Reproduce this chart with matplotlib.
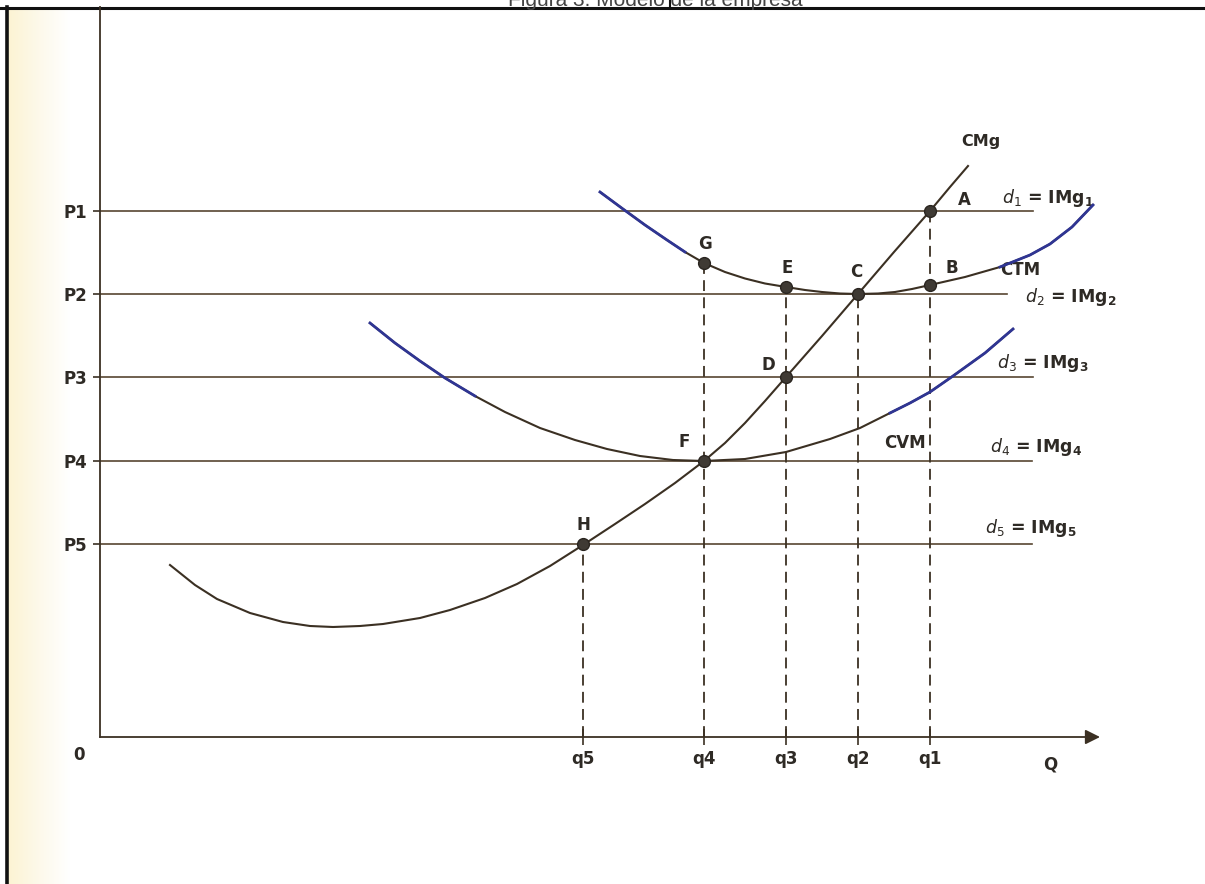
import numpy as np
import matplotlib
matplotlib.use("Agg")
import matplotlib.pyplot as plt
from matplotlib.colors import LinearSegmentedColormap

plt.rcParams['font.family'] = ['DejaVu Sans']
plt.rcParams['mathtext.fontset'] = 'dejavusans'

# price levels (horizontal demand lines) and where each line stops
price_labels = ['P1', 'P2', 'P3', 'P4', 'P5']
price_levels = [5.26, 4.43, 3.60, 2.76, 1.93]
price_line_end = [9.33, 9.07, 9.33, 9.32, 9.32]
demand_idx = ['1', '2', '3', '4', '5']

# quantities and the height where each dashed guide starts
qty_labels = ['q5', 'q4', 'q3', 'q2', 'q1']
qty_levels = [4.83, 6.04, 6.86, 7.58, 8.30]
drop_top = [1.93, 4.74, 4.50, 4.43, 5.26]

# marginal cost (CMg)
cmg_q = [0.70, 0.95, 1.17, 1.50, 1.83, 2.10, 2.33, 2.60, 2.83, 3.20, 3.50, 3.85, 4.17,
         4.50, 4.83, 5.15, 5.45, 5.75, 6.04, 6.25, 6.45, 6.65, 6.86, 7.22, 7.58, 7.94,
         8.30, 8.50, 8.68]
cmg_p = [1.72, 1.52, 1.38, 1.24, 1.15, 1.11, 1.10, 1.11, 1.13, 1.19, 1.27, 1.39, 1.53,
         1.71, 1.92, 2.13, 2.33, 2.54, 2.76, 2.94, 3.14, 3.36, 3.60, 4.01, 4.43, 4.85,
         5.26, 5.50, 5.71]

# average variable cost (CVM)
cvm_q = [2.70, 2.95, 3.20, 3.45, 3.75, 4.05, 4.40, 4.75, 5.07, 5.40, 5.73, 6.04, 6.45,
         6.86, 7.30, 7.60, 7.90, 8.10, 8.30, 8.53, 8.85, 9.13]
cvm_p = [4.14, 3.94, 3.76, 3.59, 3.41, 3.25, 3.09, 2.97, 2.88, 2.81, 2.77, 2.76, 2.78,
         2.85, 2.98, 3.09, 3.24, 3.34, 3.45, 3.61, 3.84, 4.08]

# average total cost (CTM)
ctm_q = [5.00, 5.23, 5.45, 5.67, 5.85, 6.04, 6.25, 6.45, 6.65, 6.86, 7.05, 7.22, 7.40,
         7.58, 7.78, 7.95, 8.12, 8.30, 8.65, 9.00, 9.30, 9.50, 9.72, 9.93]
ctm_p = [5.45, 5.28, 5.12, 4.97, 4.85, 4.74, 4.65, 4.585, 4.535, 4.50, 4.47, 4.45, 4.435,
         4.43, 4.435, 4.45, 4.48, 4.52, 4.60, 4.70, 4.82, 4.93, 5.10, 5.32]

# labelled points
point_names = ['A', 'B', 'C', 'D', 'E', 'F', 'G', 'H']
point_q = [8.30, 8.30, 7.58, 6.86, 6.86, 6.04, 6.04, 4.83]
point_p = [5.26, 4.52, 4.43, 3.60, 4.50, 2.76, 4.74, 1.93]
point_offsets = [(25, 8), (16, 12), (-1, 16), (-13, 9), (1, 14), (-14, 14), (1, 14), (0, 14)]

W, H = 1205, 884
X0, Y0 = 100, 737   # pixel position of the origin
UNIT = 100.0

ink = '#3b3023'
hline = '#574631'
blue = '#2f3593'
txt = '#2e2a25'

fig = plt.figure(figsize=(W / 100, H / 100), dpi=100)
fig.patch.set_facecolor('white')

# background: scan tint, frame and clipped heading
bg = fig.add_axes([0, 0, 1, 1], zorder=0)
bg.set_xlim(0, W)
bg.set_ylim(H, 0)
bg.axis('off')
tint = LinearSegmentedColormap.from_list('tint', ['#fcf3d2', '#fdf9ea', '#ffffff'])
bg.imshow(np.linspace(0, 1, 200).reshape(1, -1), extent=[7, 70, H, 7], cmap=tint,
          aspect='auto', interpolation='bilinear')
bg.plot([0, W], [7.5, 7.5], color='#111111', lw=2.2)
bg.plot([7, 7], [7, H], color='#111111', lw=2.6)
bg.plot([670, 670], [0, 7], color='#111111', lw=1.5)
bg.text(655, 0, 'Figura 3. Modelo de la empresa', ha='center', va='center',
        fontsize=15, color='#444444', family='Liberation Sans')

ax = fig.add_axes([X0 / W, (H - Y0) / H, (W - X0) / W, (Y0 - 7) / H], zorder=1)
ax.patch.set_alpha(0)
ax.set_xlim(0, (W - X0) / UNIT)
ax.set_ylim(0, (Y0 - 7) / UNIT)

for s in ['top', 'right', 'bottom']:
    ax.spines[s].set_visible(False)
ax.spines['left'].set_color(ink)
ax.spines['left'].set_linewidth(1.3)

# x axis with arrow
ax.annotate('', xy=(10.0, 0), xytext=(0, 0), annotation_clip=False,
            arrowprops=dict(arrowstyle='-|>', mutation_scale=22, lw=1.3, color=ink,
                            shrinkA=0, shrinkB=0))

# price lines
for p, end in zip(price_levels, price_line_end):
    ax.plot([0, end], [p, p], color=hline, lw=1.2, zorder=2)

dem_pos = [(9.02, 5.39), (9.25, 4.40), (8.97, 3.74), (8.90, 2.90), (8.85, 2.09)]
for (x, y), i in zip(dem_pos, demand_idx):
    ax.text(x, y, r'$\mathit{d}_{%s}$ = IMg$_{\mathbf{%s}}$' % (i, i), fontsize=12.5,
            fontweight='bold', color=txt, va='center', ha='left')

# dashed guides
for q, top in zip(qty_levels, drop_top):
    ax.plot([q, q], [0, top], color=ink, lw=1.3, dashes=(6, 3.5), zorder=2)

# cost curves
ax.plot(cmg_q, cmg_p, color=ink, lw=1.5, zorder=3, solid_joinstyle='round')
ax.plot(cvm_q, cvm_p, color=ink, lw=1.5, zorder=3, solid_joinstyle='round')
ax.plot(ctm_q, ctm_p, color=ink, lw=1.5, zorder=3, solid_joinstyle='round')

# blue-ish ink on the curve ends, as in the scan
cq, cp = np.array(ctm_q), np.array(ctm_p)
vq, vp = np.array(cvm_q), np.array(cvm_p)
for m in [cq <= 5.87, cq >= 8.80]:
    ax.plot(cq[m], cp[m], color=blue, lw=2.0, zorder=4, solid_joinstyle='round')
for m in [vq <= 3.75, vq >= 7.90]:
    ax.plot(vq[m], vp[m], color=blue, lw=2.0, zorder=4, solid_joinstyle='round')

# points and their letters
ax.plot(point_q, point_p, 'o', ms=8.5, color='#3f3a34', mec='#2a2520', mew=1, zorder=5)
for n, q, p, off in zip(point_names, point_q, point_p, point_offsets):
    ax.annotate(n, (q, p), xytext=off, textcoords='offset points', ha='center',
                va='center', fontsize=12, fontweight='bold', color=txt)

ax.text(8.81, 5.96, 'CMg', fontsize=11.5, fontweight='bold', color=txt, ha='center', va='center')
ax.text(9.20, 4.67, 'CTM', fontsize=12, fontweight='bold', color=txt, ha='center', va='center')
ax.text(8.05, 2.94, 'CVM', fontsize=12, fontweight='bold', color=txt, ha='center', va='center')

# ticks
ax.set_yticks(price_levels)
ax.set_yticklabels(price_labels, fontsize=12, fontweight='bold', color=txt)
ax.tick_params(axis='y', direction='out', length=5, width=1.2, color=ink, pad=4)
ax.set_xticks(qty_levels)
ax.set_xticklabels(qty_labels, fontsize=12, fontweight='bold', color=txt)
ax.tick_params(axis='x', direction='inout', length=12, width=1.2, color=ink, pad=3)

ax.text(-0.21, -0.18, '0', fontsize=12, fontweight='bold', color=txt, ha='center', va='center')
ax.text(9.50, -0.27, 'Q', fontsize=12, fontweight='bold', color=txt, ha='center', va='center')

fig.savefig('out.png', dpi=100)
